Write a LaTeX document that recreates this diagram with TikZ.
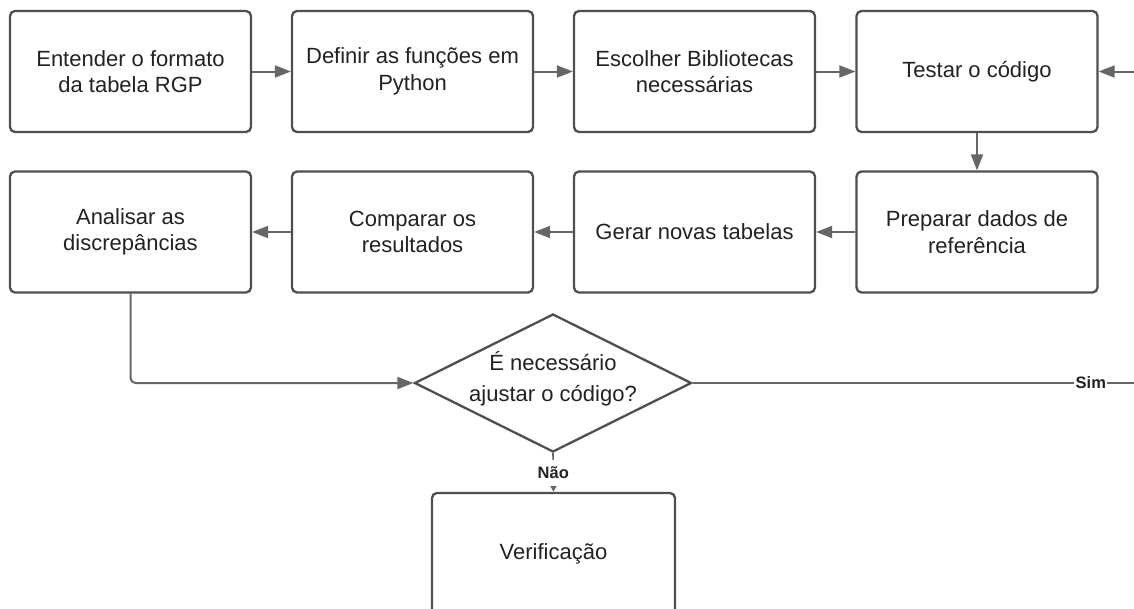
\documentclass[tikz,border=0pt]{standalone}
\usepackage{fontspec}
\setmainfont{Liberation Sans}
\usetikzlibrary{arrows.meta,shapes.geometric}
\definecolor{boxc}{HTML}{4B5057}
\definecolor{linec}{HTML}{666666}
\definecolor{txtc}{HTML}{222222}
\begin{document}
\begin{tikzpicture}[x=1pt,y=-1pt,
  stepbox/.style={draw=boxc,line width=2.3pt,rounded corners=5pt,fill=white,
    minimum width=241pt,minimum height=121pt,inner sep=0pt,align=center,
    text=txtc,font=\fontsize{22}{26.4}\selectfont},
  decis/.style={draw=boxc,line width=2.3pt,diamond,aspect=2,fill=white,
    minimum width=277pt,minimum height=138pt,inner sep=0pt},
  decistext/.style={inner sep=0pt,align=center,text=txtc,font=\fontsize{22}{31}\selectfont},
  conn/.style={draw=linec,line width=2pt,-{Triangle[length=16pt,width=12pt]}},
  connsmall/.style={draw=linec,line width=1.6pt,-{Triangle[length=6pt,width=6pt]}},
  lbl/.style={fill=white,text=txtc,font=\bfseries\fontsize{16.5}{18}\selectfont,inner xsep=1.5pt}
]
\useasboundingbox (0,0) rectangle (1134,608);
\clip (0,0) rectangle (1134,608);
\fill[white] (0,0) rectangle (1134,608);

\node[stepbox] (b1) at (130.5,71.5) {Entender o formato\\da tabela RGP};
\node[stepbox] (b2) at (412.5,71.5) {Definir as funções em\\Python};
\node[stepbox] (b3) at (694.5,71.5) {Escolher Bibliotecas\\necessárias};
\node[stepbox] (b4) at (977,71.5) {Testar o código};
\node[stepbox] (b5) at (977,232) {Preparar dados de\\referência};
\node[stepbox] (b6) at (694.5,232) {Gerar novas tabelas};
\node[stepbox] (b7) at (412.5,232) {Comparar os\\resultados};
\node[stepbox] (b8) at (130.5,232) {Analisar as\\discrepâncias};
\node[decis] (d) at (553,383) {};
\node[decistext] (dt) at (553,379) {É necessário\\ajustar o código?};
\node[stepbox,minimum width=243pt] (v) at (553.5,553.5) {Verificação};

\coordinate (inR) at (1140,71.5);
\coordinate (simR) at (1140,383);

\draw[conn] (b1) -- (b2);
\draw[conn] (b2) -- (b3);
\draw[conn] (b3) -- (b4);
\draw[conn] (inR) -- (b4.east);
\draw[conn] (b4) -- (b5);
\draw[conn] (b5) -- (b6);
\draw[conn] (b6) -- (b7);
\draw[conn] (b7) -- (b8);
\draw[conn,rounded corners=5pt] (b8.south) |- (d.west);
\draw[draw=linec,line width=2pt] (d.east) -- (simR) node[lbl,pos=0.89] {Sim};
\draw[connsmall] (d.south) -- node[lbl,minimum height=26pt] {Não} (v.north);
\end{tikzpicture}
\end{document}
